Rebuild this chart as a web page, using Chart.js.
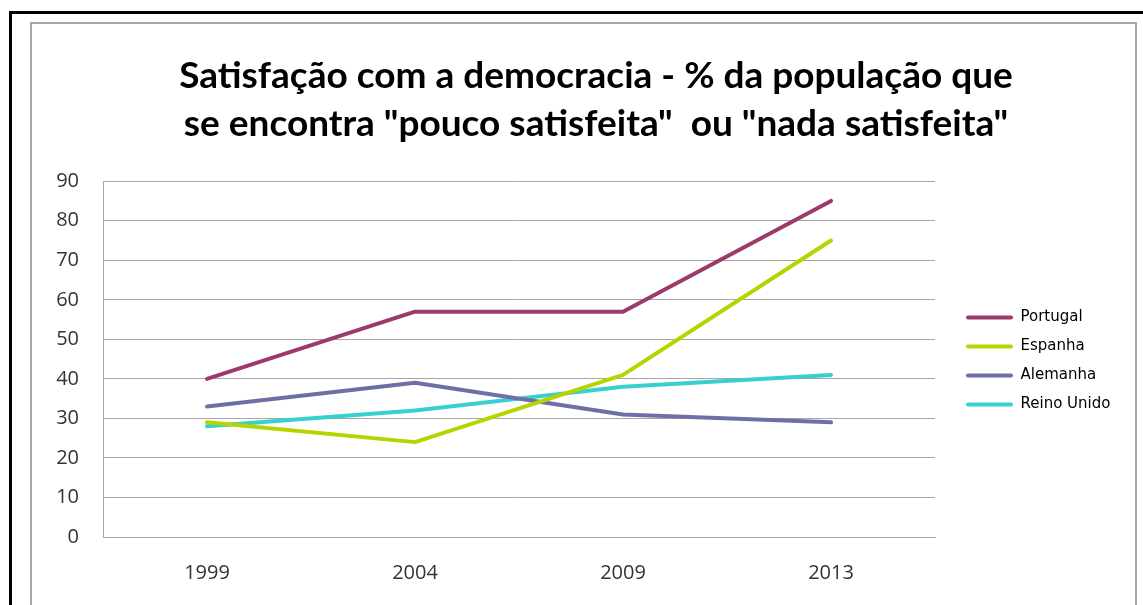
<!DOCTYPE html>
<html>
<head>
<meta charset="utf-8">
<script src="https://cdn.jsdelivr.net/npm/chart.js@4.4.0/dist/chart.umd.min.js"></script>
<style>
  html, body { margin: 0; padding: 0; background: #ffffff; }
  body { width: 1143px; height: 605px; position: relative; overflow: hidden; }
  #outer { position: absolute; left: 9px; top: 11px; width: 1200px; height: 700px;
           border-left: 3px solid #000; border-top: 3px solid #000; }
  #inner { position: absolute; left: 30px; top: 22px; width: 1103px; height: 700px;
           border: 2px solid #a6a6a6; }
  #wrap { position: absolute; left: 0; top: 0; width: 1143px; height: 605px; }
</style>
</head>
<body>
<div id="outer"></div>
<div id="inner"></div>
<div id="wrap"><canvas id="c" width="1143" height="605"></canvas></div>
<script>
const categories = ['1999', '2004', '2009', '2013'];
const portugal  = [40, 57, 57, 85];
const espanha   = [29, 24, 41, 75];
const alemanha  = [33, 39, 31, 29];
const reinoUnido = [28, 32, 38, 41];
const seriesNames = ['Portugal', 'Espanha', 'Alemanha', 'Reino Unido'];
const seriesColors = ['#9c3a6b', '#b8d400', '#6f6fa7', '#38cfcf'];
const titleLines = ['Satisfação com a democracia - % da população que',
                    'se encontra "pouco satisfeita"  ou "nada satisfeita"'];
const yMin = 0, yMax = 90, yStep = 10;

const allSeries = [portugal, espanha, alemanha, reinoUnido];

const legendFix = {
  id: 'legendFix',
  beforeLayout(chart) {
    const lg = chart.legend;
    if (lg && !lg._patched) {
      const f = lg.fit;
      lg.fit = function () { f.call(this); if (!this.isHorizontal()) this.width = 208; };
      lg._patched = true;
    }
  },
  afterLayout(chart) {
    const lg = chart.legend;
    if (lg) { lg.left += 17; lg.right += 17; lg.top = 181; lg.bottom = 541; }
  }
};

new Chart(document.getElementById('c'), {
  type: 'line',
  data: {
    labels: categories,
    datasets: allSeries.map((d, i) => ({
      label: seriesNames[i],
      data: d,
      borderColor: seriesColors[i],
      backgroundColor: seriesColors[i],
      borderWidth: 4,
      borderCapStyle: 'round',
      borderJoinStyle: 'round',
      pointRadius: 0,
      pointHoverRadius: 0,
      tension: 0,
      fill: false
    }))
  },
  options: {
    responsive: false,
    animation: false,
    devicePixelRatio: 1,
    layout: { padding: { left: 49, right: 0, top: 0, bottom: 0 } },
    plugins: {
      tooltip: { enabled: false },
      title: {
        display: true,
        text: titleLines,
        color: '#000000',
        font: { family: 'Lato', weight: 'bold', size: 37, lineHeight: 1.3 },
        padding: { top: 52, bottom: 33 }
      },
      legend: {
        display: true,
        position: 'right',
        align: 'center',
        labels: {
          boxWidth: 47,
          boxHeight: 4,
          padding: 14,
          color: '#000000',
          font: { family: 'DejaVu Sans', size: 15, lineHeight: 1.2 },
          generateLabels(chart) {
            const items = Chart.defaults.plugins.legend.labels.generateLabels(chart);
            return items.map(it => Object.assign(it, { lineWidth: 0, borderRadius: 2 }));
          },
          useBorderRadius: true,
          borderRadius: 2
        }
      }
    },
    scales: {
      x: {
        type: 'category',
        offset: true,
        grid: { display: false, drawTicks: false },
        border: { display: true, color: '#a6a6a6', width: 1 },
        ticks: {
          color: '#333333',
          padding: 24,
          font: { family: 'Open Sans', size: 20 }
        },
        afterFit(scale) { scale.height = 68; }
      },
      y: {
        min: yMin,
        max: yMax,
        grid: { color: '#a6a6a6', lineWidth: 1, drawTicks: false },
        border: { display: true, color: '#a6a6a6', width: 1 },
        ticks: {
          stepSize: yStep,
          color: '#333333',
          padding: 24,
          font: { family: 'Open Sans', size: 20 }
        },
        afterFit(scale) { scale.width = 54; }
      }
    }
  },
  plugins: [legendFix]
});
</script>
</body>
</html>
